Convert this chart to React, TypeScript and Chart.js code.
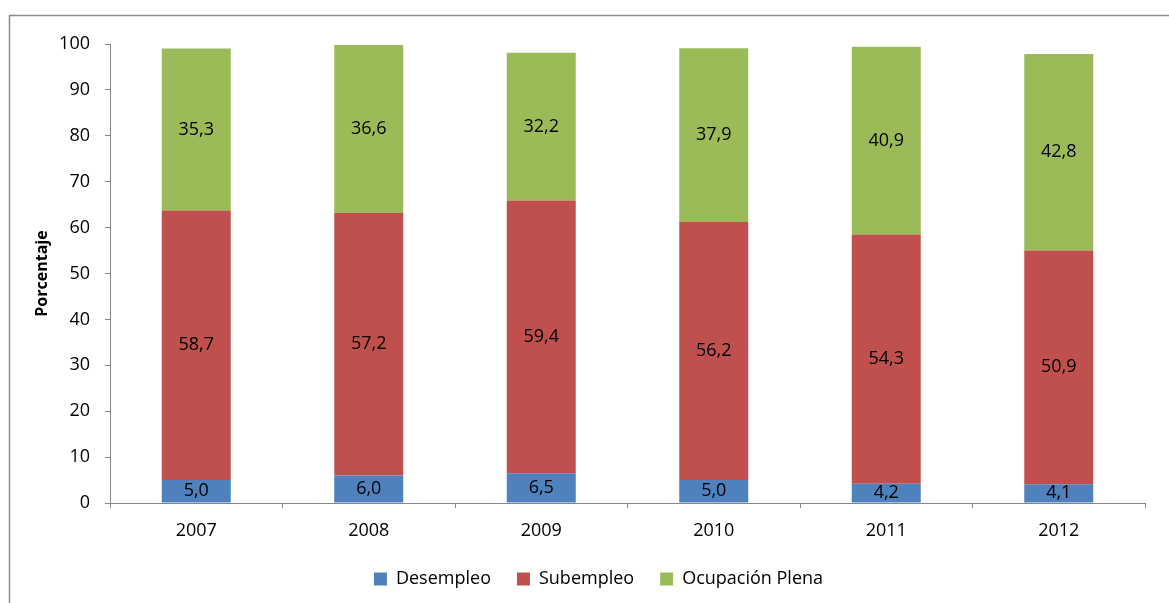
import React, { useEffect, useRef } from 'react';
import { Chart, registerables } from 'chart.js';

Chart.register(...registerables);

const years = ['2007', '2008', '2009', '2010', '2011', '2012'];
const desempleo = [5.0, 6.0, 6.5, 5.0, 4.2, 4.1];
const subempleo = [58.7, 57.2, 59.4, 56.2, 54.3, 50.9];
const ocupacionPlena = [35.3, 36.6, 32.2, 37.9, 40.9, 42.8];
const seriesNames = ['Desempleo', 'Subempleo', 'Ocupación Plena'];
const seriesColors = ['#4F81BD', '#C0504D', '#9BBB59'];
const yMin = 0;
const yMax = 100;
const yStep = 10;
const yTitle = 'Porcentaje';

const AXIS = '#868686';
const FONT = '"Open Sans", "DejaVu Sans", sans-serif';

const framePlugin = {
  id: 'frame',
  beforeDraw(chart: any) {
    const { ctx } = chart;
    ctx.save();
    ctx.strokeStyle = '#8C8C8C';
    ctx.lineWidth = 1.5;
    ctx.beginPath();
    ctx.moveTo(9.5, chart.height + 5);
    ctx.lineTo(9.5, 15.5);
    ctx.lineTo(chart.width + 5, 15.5);
    ctx.stroke();
    ctx.restore();
  },
};

const legendShiftPlugin = {
  id: 'legendShift',
  afterLayout(chart: any) {
    if (chart.legend) {
      chart.legend.left += 26;
      chart.legend.right += 26;
    }
  },
};

const labelPlugin = {
  id: 'barLabels',
  afterDatasetsDraw(chart: any) {
    const { ctx } = chart;
    ctx.save();
    ctx.font = `18px ${FONT}`;
    ctx.fillStyle = '#000';
    ctx.textAlign = 'center';
    ctx.textBaseline = 'middle';
    chart.data.datasets.forEach((ds: any, di: number) => {
      const meta = chart.getDatasetMeta(di);
      meta.data.forEach((el: any, i: number) => {
        const v = ds.data[i] as number;
        const props = el.getProps(['x', 'y', 'base'], true);
        const cy = (props.y + props.base) / 2;
        ctx.fillText(v.toFixed(1).replace('.', ','), props.x, cy);
      });
    });
    ctx.restore();
  },
};

export default function App() {
  const ref = useRef<HTMLCanvasElement | null>(null);

  useEffect(() => {
    if (!ref.current) return;
    Chart.defaults.font.family = FONT;
    const chart = new Chart(ref.current, {
      type: 'bar',
      data: {
        labels: years,
        datasets: [desempleo, subempleo, ocupacionPlena].map((d, i) => ({
          label: seriesNames[i],
          data: d,
          backgroundColor: seriesColors[i],
          borderWidth: 0,
          barPercentage: 0.4,
          categoryPercentage: 1,
        })),
      },
      options: {
        animation: false,
        responsive: true,
        maintainAspectRatio: false,
        layout: { padding: { top: 44, right: 24, bottom: 5, left: 0 } },
        plugins: {
          legend: {
            position: 'bottom',
            labels: {
              boxWidth: 13,
              boxHeight: 13,
              padding: 26,
              color: '#000',
              font: { size: 18, family: FONT },
            },
          },
          tooltip: { enabled: false },
        },
        scales: {
          x: {
            stacked: true,
            grid: {
              drawOnChartArea: false,
              drawTicks: true,
              tickLength: 5,
              color: AXIS,
              offset: true,
            },
            border: { color: AXIS, width: 1 },
            ticks: { color: '#000', font: { size: 18 }, padding: 12 },
            afterFit(scale: any) {
              scale.height = 41;
            },
          },
          y: {
            stacked: true,
            min: yMin,
            max: yMax,
            grid: {
              drawOnChartArea: false,
              drawTicks: true,
              tickLength: 5,
              color: AXIS,
            },
            border: { color: AXIS, width: 1 },
            ticks: { stepSize: yStep, color: '#000', font: { size: 18 }, padding: 15 },
            title: {
              display: true,
              text: yTitle,
              color: '#000',
              font: { size: 16, weight: 'bold' },
              padding: { top: 33, bottom: 0 },
            },
            afterFit(scale: any) {
              scale.width = 110;
            },
          },
        },
      },
      plugins: [framePlugin, legendShiftPlugin, labelPlugin],
    });
    return () => chart.destroy();
  }, []);

  return (
    <div style={{ position: 'absolute', left: 0, top: 0, width: 1169, height: 603, background: '#fff' }}>
      <canvas ref={ref} />
    </div>
  );
}
